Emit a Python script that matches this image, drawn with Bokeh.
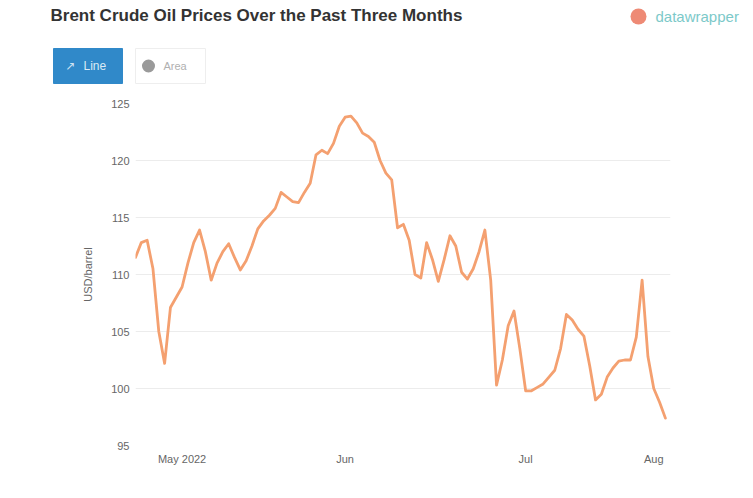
import pandas as pd
from bokeh.plotting import figure
from bokeh.layouts import column
from bokeh.models import Range1d, FixedTicker, ColumnDataSource
from bokeh.core.properties import value
from bokeh.embed import file_html
from bokeh.resources import INLINE

# ---- data ----
start_date = "2022-05-04"
prices = [
    111.5, 112.8, 113.0, 110.5, 105.0, 102.2, 107.1, 108.0, 108.9, 111.0,
    112.8, 113.9, 112.0, 109.5, 111.0, 112.0, 112.7, 111.5, 110.4, 111.2,
    112.5, 114.0, 114.7, 115.2, 115.8, 117.2, 116.8, 116.4, 116.3, 117.2,
    118.0, 120.5, 120.9, 120.6, 121.5, 123.0, 123.8, 123.9, 123.3, 122.4,
    122.1, 121.6, 120.0, 118.9, 118.3, 114.1, 114.4, 113.0, 110.0, 109.7,
    112.8, 111.3, 109.4, 111.3, 113.4, 112.5, 110.2, 109.6, 110.5, 112.0,
    113.9, 109.5, 100.3, 102.5, 105.5, 106.8, 103.5, 99.8, 99.8, 100.1,
    100.4, 101.0, 101.6, 103.5, 106.5, 106.0, 105.2, 104.6, 102.0, 99.0,
    99.5, 101.0, 101.8, 102.4, 102.5, 102.5, 104.5, 109.5, 102.8, 100.0,
    98.8, 97.4,
]
dates = pd.date_range(start_date, periods=len(prices), freq="D")

y_ticks = [95, 100, 105, 110, 115, 120, 125]
x_tick_dates = ["2022-05-12", "2022-06-09", "2022-07-10", "2022-08-01"]
x_tick_labels = ["May 2022", "Jun", "Jul", "Aug"]

title_text = "Brent Crude Oil Prices Over the Past Three Months"
y_title = "USD/barrel"
button_labels = ["Line", "Area"]
brand_text = "datawrapper"
line_color = "#f4a070"
FONT = "Liberation Sans"

# ---- layout constants (page pixels) ----
W, H = 745, 490
HEAD = 90
FL, FR, FT, FB = 135, 670, 103, 445   # chart frame edges on the page

# ---- header strip: title, buttons, brand ----
hd = figure(width=W, height=HEAD, output_backend="svg", toolbar_location=None,
            x_range=Range1d(0, W), y_range=Range1d(HEAD, 0),
            min_border=0, x_axis_type=None, y_axis_type=None)
hd.outline_line_color = None
hd.grid.visible = False
hd.text(x=[50], y=[15], text=[title_text], text_font=value(FONT),
        text_font_size="17px", text_font_style="bold", text_color="#333333",
        text_baseline="middle", text_align="left")
hd.quad(left=[53], right=[122], top=[48], bottom=[83],
        fill_color="#3089c9", line_color="#3089c9")
hd.quad(left=[135], right=[205], top=[48], bottom=[83],
        fill_color="white", line_color="#eeeeee")
hd.text(x=[65], y=[65.5], text=["\u2197"], text_font=value("DejaVu Sans"),
        text_font_size="12px", text_color="#cfe2f2", text_baseline="middle")
hd.text(x=[83], y=[65.5], text=[button_labels[0]], text_font=value(FONT),
        text_font_size="12px", text_color="#dbe9f5", text_baseline="middle")
hd.scatter(x=[148], y=[65.5], size=13, marker="circle",
           fill_color="#9a9a9a", line_color=None)
hd.text(x=[163], y=[65.5], text=[button_labels[1]], text_font=value(FONT),
        text_font_size="11px", text_color="#b0b0b0", text_baseline="middle")
hd.scatter(x=[638], y=[16], size=16, marker="circle",
           fill_color="#ee8a75", line_color=None)
hd.text(x=[655], y=[16], text=[brand_text], text_font=value(FONT),
        text_font_size="15px", text_color="#7cc9c9", text_baseline="middle")

# ---- chart ----
x_start = pd.Timestamp(start_date)
x_end = x_start + pd.Timedelta(hours=int(91.9 * 24))

p = figure(width=W, height=H - HEAD, x_axis_type="datetime",
           output_backend="svg", toolbar_location=None,
           x_range=Range1d(x_start, x_end), y_range=Range1d(95, 125),
           min_border_left=FL, min_border_right=W - FR,
           min_border_top=FT - HEAD, min_border_bottom=H - FB)
p.outline_line_color = None

src = ColumnDataSource(dict(date=dates, price=prices))
p.line("date", "price", source=src, line_color=line_color, line_width=2.8,
       line_join="round", line_cap="round")

tick_ms = [pd.Timestamp(d).value / 1e6 for d in x_tick_dates]
p.xaxis.ticker = FixedTicker(ticks=tick_ms)
p.xaxis.major_label_overrides = {t: l for t, l in zip(tick_ms, x_tick_labels)}
p.yaxis.ticker = FixedTicker(ticks=y_ticks)
for ax in (p.xaxis[0], p.yaxis[0]):
    ax.axis_line_color = None
    ax.major_tick_line_color = None
    ax.minor_tick_line_color = None
    ax.major_label_text_font = FONT
    ax.major_label_text_font_size = "11px"
    ax.major_label_text_color = "#666666"
p.xaxis.major_label_standoff = 1
p.yaxis.major_label_standoff = 0
p.yaxis.axis_label = y_title
p.yaxis.axis_label_text_font = FONT
p.yaxis.axis_label_text_font_size = "11px"
p.yaxis.axis_label_text_font_style = "normal"
p.yaxis.axis_label_text_color = "#666666"
p.yaxis.axis_label_standoff = 14

p.xgrid.grid_line_color = None
p.ygrid.grid_line_color = "#ececec"
p.ygrid.grid_line_width = 1

# nesting the header in its own column keeps its frame from being aligned
layout = column(column(hd), p, spacing=0)
open("out.html", "w").write(file_html(layout, INLINE))
